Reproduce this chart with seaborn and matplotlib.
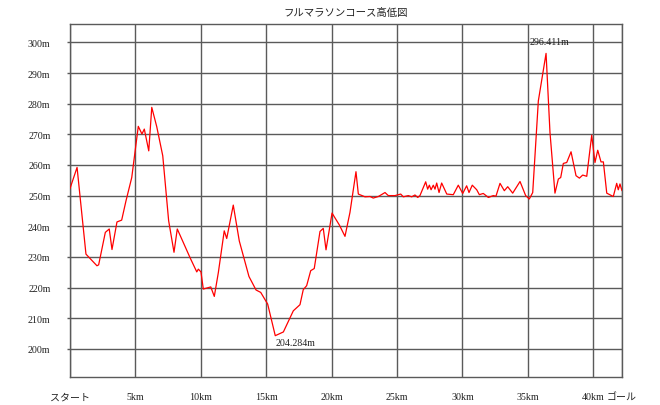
import matplotlib
matplotlib.use("Agg")
import matplotlib.pyplot as plt
import seaborn as sns
import pandas as pd

# ---- data ----
title = "フルマラソンコース高低図"
distance_km = [0.00, 0.54, 1.22, 2.06, 2.19, 2.70, 3.00, 3.21, 3.59, 3.95, 4.28, 4.72,
               5.22, 5.50, 5.68, 6.02, 6.25, 6.63, 7.09, 7.54, 7.95, 8.20, 8.66, 9.17,
               9.69, 9.81, 10.01, 10.19, 10.76, 11.03, 11.34, 11.79, 11.98, 12.48, 12.94,
               13.68, 14.22, 14.58, 15.11, 15.69, 16.31, 17.07, 17.58, 17.83, 18.09, 18.40,
               18.67, 19.11, 19.36, 19.57, 20.03, 20.59, 21.02, 21.40, 21.86, 22.04, 22.55,
               22.93, 23.18, 23.57, 24.08, 24.33, 24.84, 25.28, 25.48, 25.86, 26.12, 26.37,
               26.58, 26.75, 27.19, 27.34, 27.47, 27.60, 27.77, 27.90, 28.03, 28.21, 28.41,
               28.80, 29.30, 29.68, 30.02, 30.32, 30.50, 30.75, 31.09, 31.29, 31.59, 31.98,
               32.36, 32.56, 32.87, 33.20, 33.46, 33.84, 34.40, 34.83, 35.11, 35.37, 35.80,
               36.39, 36.69, 37.07, 37.33, 37.51, 37.71, 37.97, 38.30, 38.68, 38.94, 39.19,
               39.50, 39.88, 40.13, 40.34, 40.59, 40.77, 41.03, 41.53, 41.79, 41.91, 42.04,
               42.195]
elevation_m = [252.3, 259.2, 230.9, 227.1, 227.4, 238.0, 239.1, 232.4, 241.4, 242.0, 248.3, 255.9,
               272.6, 270.1, 271.7, 264.6, 278.8, 272.5, 263.0, 241.8, 231.5, 239.1, 234.7, 229.8,
               225.1, 226.0, 225.1, 219.5, 220.2, 217.1, 224.9, 238.5, 236.0, 246.9, 235.2,
               223.6, 219.2, 218.4, 214.6, 204.284, 205.5, 212.4, 214.4, 219.3, 220.6, 225.5,
               226.2, 238.3, 239.3, 232.3, 244.3, 240.4, 236.7, 244.5, 257.8, 250.5, 249.6,
               249.7, 249.2, 249.7, 251.0, 250.0, 250.0, 250.5, 249.6, 250.0, 249.6, 250.2,
               249.4, 250.0, 254.5, 252.1, 253.4, 251.9, 253.4, 252.1, 254.1, 251.0, 254.1,
               250.5, 250.3, 253.4, 250.7, 253.2, 251.0, 253.4, 251.9, 250.3, 250.7, 249.4,
               250.0, 249.8, 254.0, 251.6, 252.9, 250.8, 254.6, 250.0, 248.9, 251.0, 280.9,
               296.411, 270.6, 250.8, 255.4, 255.9, 260.5, 260.8, 264.3, 256.5, 255.7, 256.7,
               256.3, 269.7, 260.8, 264.8, 261.0, 261.0, 250.8, 249.7, 254.0, 251.9, 253.8,
               251.6]
x_tick_values = [0, 5, 10, 15, 20, 25, 30, 35, 40, 42.195]
x_tick_labels = ["スタート", "5km", "10km", "15km", "20km", "25km", "30km", "35km", "40km", "ゴール"]
y_tick_values = [200, 210, 220, 230, 240, 250, 260, 270, 280, 290, 300]
y_tick_labels = ["200m", "210m", "220m", "230m", "240m", "250m", "260m", "270m", "280m", "290m", "300m"]
max_label = "296.411m"
min_label = "204.284m"

df = pd.DataFrame({"distance": distance_km, "elevation": elevation_m})

sns.set_style("white")
plt.rcParams["font.family"] = ["Liberation Serif", "Noto Sans CJK JP", "DejaVu Sans"]

fig = plt.figure(figsize=(6.6, 4.06), dpi=100)
ax = fig.add_axes([70 / 660, 1 - 378 / 406, 552 / 660, 353 / 406])

sns.lineplot(data=df, x="distance", y="elevation", ax=ax, color="#ff0000",
             linewidth=0.9, estimator=None, sort=False, zorder=3)

ax.set_xlim(0, 42.195)
ax.set_ylim(190.8, 306.0)

grid_col = "#5a5a5a"
ax.set_xticks(x_tick_values)
ax.set_xticklabels(x_tick_labels)
ax.set_yticks(y_tick_values)
ax.set_yticklabels(y_tick_labels)
ax.grid(True, color=grid_col, linewidth=1.0, zorder=1)
ax.set_axisbelow(True)
for s in ax.spines.values():
    s.set_color(grid_col)
    s.set_linewidth(1.0)
    s.set_visible(True)

ax.tick_params(axis="x", length=0, pad=11, labelsize=7.2, labelcolor="#222222")
ax.tick_params(axis="y", length=2, width=1.0, color=grid_col, pad=12,
               labelsize=7.2, labelcolor="#222222", left=True)
for lbl in ax.get_xticklabels():
    lbl.set_fontfamily(["Liberation Serif", "Noto Sans CJK JP"])

ax.set_xlabel("")
ax.set_ylabel("")

imax = elevation_m.index(max(elevation_m))
imin = elevation_m.index(min(elevation_m))
ax.annotate(max_label, xy=(distance_km[imax], elevation_m[imax]), xytext=(-12.2, 8.5),
            textcoords="offset points", ha="left", va="center", fontsize=7.2,
            color="#222222", family=["Liberation Serif"])
ax.annotate(min_label, xy=(distance_km[imin], elevation_m[imin]), xytext=(0, -5),
            textcoords="offset points", ha="left", va="center", fontsize=7.2,
            color="#222222", family=["Liberation Serif"])

fig.text(346 / 660, 1 - 13 / 406, title, ha="center", va="center", fontsize=7.5,
         color="#222222", family=["Noto Sans CJK JP", "DejaVu Sans"])

fig.savefig("out.png", dpi=100, facecolor="white")
